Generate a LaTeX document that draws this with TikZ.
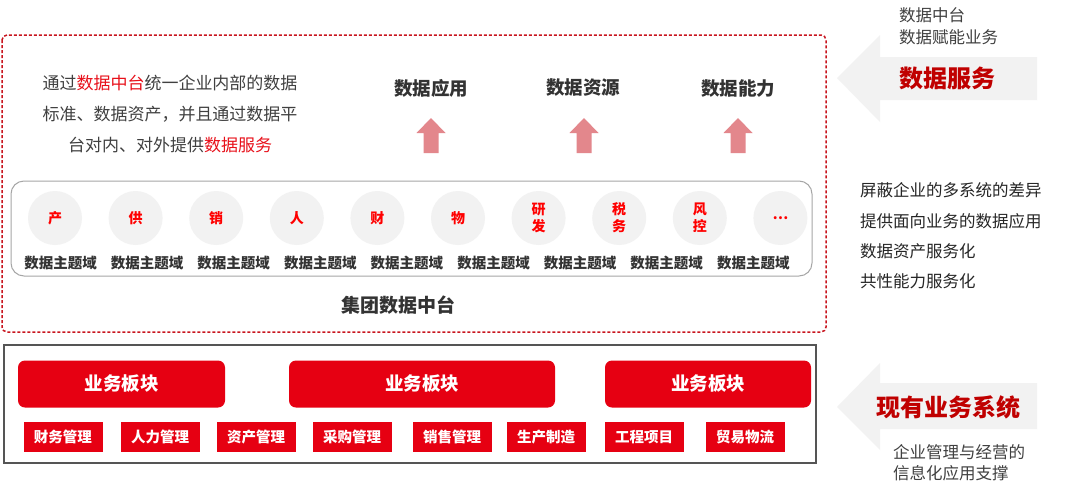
\documentclass[tikz,border=0pt]{standalone}
\usepackage{fontspec}
\setmainfont{Noto Sans CJK SC}
\definecolor{txtgray}{HTML}{404040}
\definecolor{hired}{HTML}{E8101A}
\definecolor{headc}{HTML}{333333}
\definecolor{pinkc}{HTML}{E3878C}
\definecolor{darkred}{HTML}{C00000}
\definecolor{agray}{HTML}{F2F2F2}
\definecolor{boxred}{HTML}{E60012}
\definecolor{dashred}{HTML}{C8141E}
\definecolor{rimgray}{HTML}{A6A6A6}
\definecolor{framec}{HTML}{555555}
\definecolor{circred}{HTML}{FF0000}
\tikzset{
  para/.style={inner sep=0, text=txtgray, font=\fontsize{17}{20}\selectfont},
  head/.style={inner sep=0, text=headc, font=\fontsize{18.5}{21}\selectfont\bfseries},
  circ/.style={circle, minimum size=54pt, inner sep=0, fill=agray, text=circred, align=center, font=\fontsize{14}{17}\selectfont\bfseries},
  lab/.style={inner sep=0, text=headc, font=\fontsize{14.5}{17}\selectfont\bfseries},
  bigbox/.style={fill=boxred, rounded corners=7pt, inner sep=0, minimum height=47pt, text=white, font=\fontsize{18.5}{21}\selectfont\bfseries},
  smallbox/.style={fill=boxred, inner sep=0, minimum width=79pt, minimum height=30pt, text=white, font=\fontsize{14.5}{17}\selectfont\bfseries},
  side/.style={inner sep=0, anchor=west, text=txtgray, font=\fontsize{16.5}{19}\selectfont},
  sideb/.style={inner sep=0, anchor=west, text=black!85, font=\fontsize{16.5}{19}\selectfont},
  biglab/.style={inner sep=0, text=darkred, font=\fontsize{24}{28}\selectfont\bfseries},
  pinkarrow/.style={fill=pinkc},
  grayarrow/.style={fill=agray}
}
\begin{document}
\begin{tikzpicture}[x=1pt,y=-1pt]
\useasboundingbox[fill=white] (0,0) rectangle (1080,493);

% top dashed frame
\draw[dashred, line width=1.5pt, dash pattern=on 3pt off 2pt, rounded corners=5pt] (2,35) rectangle (826,332);

% paragraph
\node[para] (p1) at (170,83) {通过\textcolor{hired}{数据中台}统一企业内部的数据};
\node[para] (p2) at (170,114) {标准、数据资产，并且通过数据平};
\node[para] (p3) at (170,145) {台对内、对外提供\textcolor{hired}{数据服务}};

% headings and pink arrows
\node[head] (h1) at (431,88) {数据应用};
\node[head] (h2) at (583,88) {数据资源};
\node[head] (h3) at (738,88) {数据能力};
\foreach \x in {431,584,738}{
  \fill[pinkarrow] (\x,118) -- ({\x+14.5},133) -- ({\x+7.5},133) -- ({\x+7.5},153) -- ({\x-7.5},153) -- ({\x-7.5},133) -- ({\x-14.5},133) -- cycle;
}

% domain row
\draw[rimgray, line width=1pt, rounded corners=13pt] (11,181) rectangle (812,276);
\foreach \t [count=\i] in {产,供,销,人,财,物,{研\\发},{税\\务},{风\\控},…}{
  \pgfmathsetmacro{\cx}{55+(\i-1)*80.6}
  \node[circ] (c\i) at (\cx,218) {\t};
}
\foreach \i in {1,...,9}{
  \pgfmathsetmacro{\lx}{60.5+(\i-1)*86.6}
  \node[lab] (l\i) at (\lx,263) {数据主题域};
}
\node[head, font=\fontsize{19}{22}\selectfont\bfseries] (jt) at (398,305) {集团数据中台};

% bottom frame
\draw[framec, line width=1.4pt] (4,345) rectangle (816,463);
\node[bigbox, minimum width=207pt] (b1) at (121.5,384) {业务板块};
\node[bigbox, minimum width=266pt] (b2) at (422,384) {业务板块};
\node[bigbox, minimum width=206pt] (b3) at (708,384) {业务板块};
\node[smallbox] (s1) at (63,437) {财务管理};
\node[smallbox] (s2) at (160,437) {人力管理};
\node[smallbox] (s3) at (256,437) {资产管理};
\node[smallbox] (s4) at (352,437) {采购管理};
\node[smallbox] (s5) at (452,437) {销售管理};
\node[smallbox] (s6) at (546,437) {生产制造};
\node[smallbox] (s7) at (644,437) {工程项目};
\node[smallbox] (s8) at (745,437) {贸易物流};

% right side: top arrow
\fill[grayarrow] (837,78) -- (880,35) -- (880,57) -- (1037,57) -- (1037,100) -- (880,100) -- (880,122) -- cycle;
\node[biglab] (ds) at (947,78) {数据服务};
\node[side] (t1) at (899,15) {数据中台};
\node[side] (t2) at (899,37) {数据赋能业务};

% right side middle
\node[sideb] (m1) at (860,190) {屏蔽企业的多系统的差异};
\node[sideb] (m2) at (860,221) {提供面向业务的数据应用};
\node[sideb] (m3) at (860,251) {数据资产服务化};
\node[sideb] (m4) at (860,281) {共性能力服务化};

% right side: bottom arrow
\fill[grayarrow] (837,407) -- (880,363) -- (880,383) -- (1037,383) -- (1037,429) -- (880,429) -- (880,450) -- cycle;
\node[biglab] (xy) at (948,407) {现有业务系统};
\node[side] (t3) at (893,452) {企业管理与经营的};
\node[side] (t4) at (893,473) {信息化应用支撑};
\end{tikzpicture}
\end{document}
